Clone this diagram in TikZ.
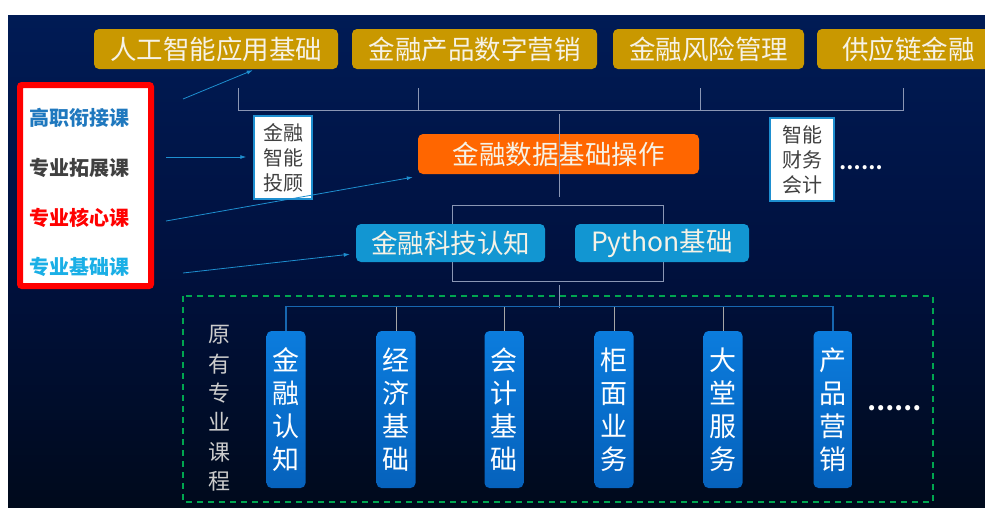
\documentclass[tikz,border=0pt]{standalone}
\usepackage{fontspec}
\setmainfont{Noto Sans CJK SC}
\usetikzlibrary{arrows.meta}
\definecolor{bgtop}{HTML}{001B55}
\definecolor{bgmid}{HTML}{00113F}
\definecolor{bgbot}{HTML}{000A1C}
\definecolor{gold}{HTML}{C99800}
\definecolor{orangebox}{HTML}{FF6600}
\definecolor{lightblue}{HTML}{1296D2}
\definecolor{vtop}{HTML}{0B7CDD}
\definecolor{vbot}{HTML}{0662BC}
\definecolor{bracket}{HTML}{8A96B4}
\definecolor{arrowblue}{HTML}{1E8FD0}
\definecolor{framegreen}{HTML}{00A650}
\definecolor{busblue}{HTML}{1767B0}
\definecolor{txtgray}{HTML}{404040}
\definecolor{lblblue}{HTML}{1F78BE}
\definecolor{lblcyan}{HTML}{1AAFE6}
\definecolor{boxtext}{HTML}{F6F2E6}
\begin{document}
\begin{tikzpicture}[x=1pt,y=-1pt,
  topbox/.style={fill=gold, rounded corners=5pt, minimum height=40pt, inner sep=0pt,
    text=boxtext, font=\fontsize{26.5}{30}\selectfont},
  corebox/.style={fill=orangebox, rounded corners=5pt, minimum height=40pt, inner sep=0pt,
    text=boxtext, font=\fontsize{26.5}{30}\selectfont},
  basebox/.style={fill=lightblue, rounded corners=5pt, minimum height=38pt, inner sep=0pt,
    text=boxtext, font=\fontsize{26.5}{30}\selectfont},
  extbox/.style={fill=white, draw=arrowblue, line width=1.5pt, minimum height=83pt, inner sep=0pt,
    align=center, text=txtgray, font=\fontsize{20}{25}\selectfont},
  vbox/.style={top color=vtop, bottom color=vbot, rounded corners=5pt, minimum width=39pt,
    minimum height=157pt, inner sep=0pt, align=center, text=white, font=\fontsize{27}{33}\selectfont},
  lbl/.style={font=\bfseries\fontsize{20}{24}\selectfont},
  brk/.style={draw=bracket, line width=1pt},
  arr/.style={draw=arrowblue, line width=0.8pt, -{Latex[length=6pt,width=4pt]}},
  dots/.style={text=white}
]
\clip (0,0) rectangle (985,507);
\fill[white] (0,0) rectangle (985,507);
\shade[top color=bgtop, bottom color=bgbot, middle color=bgmid] (8,15) rectangle (985,507);

% top row
\node[topbox, minimum width=244pt] (t1) at (216,49) {人工智能应用基础};
\node[topbox, minimum width=245pt] (t2) at (474.5,49) {金融产品数字营销};
\node[topbox, minimum width=191pt] (t3) at (708.5,49) {金融风险管理};
\node[topbox, minimum width=183pt] (t4) at (908.5,49) {供应链金融};

% top bracket
\draw[brk] (238,88) -- (238,110) -- (903,110) -- (903,88);
\draw[brk] (418,88) -- (418,110);
\draw[brk] (700,88) -- (700,110);

% middle bracket
\draw[brk] (452,205) rectangle (663,281);

% core
\node[corebox, minimum width=281pt] (core) at (558.5,154) {金融数据基础操作};
\draw[brk] (559,114) -- (559,197);

% base
\node[basebox, minimum width=189pt] (fin) at (450.5,243) {金融科技认知};
\node[basebox, minimum width=174pt] (py) at (662,243) {Python基础};

% extension boxes
\node[extbox, minimum width=58pt] (tg) at (283,157.5) {金融\\智能\\投顾};
\node[extbox, minimum width=64pt] (cw) at (802,159.5) {智能\\财务\\会计};
\node[dots, font=\bfseries\fontsize{19}{20}\selectfont] (d1) at (861,168) {……};

% legend
\node[draw=red, line width=6pt, fill=white, rounded corners=2pt, minimum width=131pt,
  minimum height=201pt] (leg) at (85.5,185.5) {};
\node[lbl, text=lblblue] (l1) at (79,118) {高职衔接课};
\node[lbl, text=txtgray] (l2) at (79,168) {专业拓展课};
\node[lbl, text=red] (l3) at (79,218) {专业核心课};
\node[lbl, text=lblcyan] (l4) at (79,267) {专业基础课};

% arrows
\coordinate (s1) at (183,99);
\coordinate (s2) at (166,157);
\coordinate (s3) at (166,221);
\coordinate (s4) at (183,273);
\draw[arr] (s1) -- ([xshift=159pt,yshift=-1pt]t1.south west);
\draw[arr, shorten >=7pt] (s2) -- (tg.west |- s2);
\draw[arr] (s3) -- ([xshift=-5pt,yshift=-3pt]core.south west);
\draw[arr] (s4) -- ([xshift=-6pt,yshift=8pt]fin.south west);

% original courses frame
\draw[framegreen, line width=1.5pt, dash pattern=on 6pt off 5pt] (183,296) rectangle (933,502);
\draw[brk] (559,285) -- (559,308);

\node[text=black!20, align=center, font=\fontsize{22}{29.4}\selectfont] (orig) at (219,408.5)
  {原\\有\\专\\业\\课\\程};

\node[vbox] (v1) at (286,409.5) {金\\融\\认\\知};
\node[vbox] (v2) at (396,409.5) {经\\济\\基\\础};
\node[vbox] (v3) at (504,409.5) {会\\计\\基\\础};
\node[vbox] (v4) at (614,409.5) {柜\\面\\业\\务};
\node[vbox] (v5) at (723,409.5) {大\\堂\\服\\务};
\node[vbox] (v6) at (833,409.5) {产\\品\\营\\销};
\node[dots, font=\bfseries\fontsize{24}{26}\selectfont] (d2) at (894,408) {……};

\draw[busblue, line width=1.2pt] (v1.north) -- ++(0,-24) -| (v6.north);
\foreach \v in {v2,v3,v4,v5}
  \draw[draw=black!35, line width=1pt] (\v.north) -- ++(0,-24);
\end{tikzpicture}
\end{document}
